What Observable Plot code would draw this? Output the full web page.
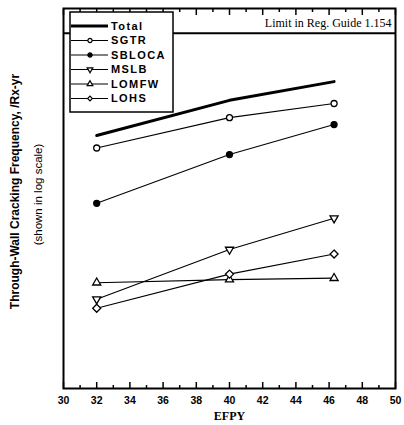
<!DOCTYPE html>
<html><head><meta charset="utf-8">
<script src="https://cdn.jsdelivr.net/npm/d3@7"></script>
<script src="https://cdn.jsdelivr.net/npm/@observablehq/plot@0.6"></script>
<style>body{margin:0;background:#fff}</style>
</head><body><div id="chart"></div>
<script>
const efpy = [32, 40, 46.3];
const seriesNames = ["Total", "SGTR", "SBLOCA", "MSLB", "LOMFW", "LOHS"];
const total  = [4.6e-5, 1.08e-4, 1.7e-4];
const sgtr   = [3.4e-5, 7.1e-5, 1.0e-4];
const sbloca = [8.9e-6, 2.9e-5, 6.0e-5];
const mslb   = [8.7e-7, 2.9e-6, 6.2e-6];
const lomfw  = [1.3e-6, 1.4e-6, 1.45e-6];
const lohs   = [7.0e-7, 1.6e-6, 2.6e-6];
const limitValue = 5.5e-4;
const limitLabel = "Limit in Reg. Guide 1.154";
const xTicks = [30, 32, 34, 36, 38, 40, 42, 44, 46, 48, 50];
const xMinor = [31, 33, 35, 37, 39, 41, 43, 45, 47, 49];
const yLabel = "Through-Wall Cracking Frequency, /Rx-yr";
const yLabel2 = "(shown in log scale)";
const xLabel = "EFPY";

const values = [total, sgtr, sbloca, mslb, lomfw, lohs];
const symbolOf = {SGTR: "circle", SBLOCA: "circle", MSLB: "triangle", LOMFW: "triangle", LOHS: "diamond2"};
const rotateOf = {MSLB: 180};
const filledOf = {SBLOCA: true};
const rows = [];
seriesNames.forEach((s, i) => efpy.forEach((x, j) => rows.push({series: s, x, y: values[i][j]})));
const totalRows = rows.filter(d => d.series === "Total");
const compRows = rows.filter(d => d.series !== "Total");

const sans = "'Liberation Sans', Arial, sans-serif";
const serif = "'Liberation Serif', 'Times New Roman', serif";

const dotMarks = seriesNames.filter(s => s !== "Total").map(s =>
  Plot.dot(compRows.filter(d => d.series === s), {
    x: "x", y: "y", symbol: () => symbolOf[s], r: s === "LOHS" ? 3.6 : 3,
    rotate: rotateOf[s] || 0,
    fill: filledOf[s] ? "black" : "white", stroke: "black", strokeWidth: 1.3
  })
);

const plot = Plot.plot({
  width: 404, height: 425,
  marginLeft: 63, marginRight: 9, marginTop: 8, marginBottom: 37,
  style: {fontFamily: sans, background: "white"},
  x: {domain: [30, 50]},
  y: {type: "log", domain: [1e-7, 1e-3], axis: null},
  marks: [
    Plot.ruleY([limitValue], {stroke: "black", strokeWidth: 2}),
    Plot.text([limitLabel], {frameAnchor: "top-right", dx: -4, dy: 10, textAnchor: "end", lineAnchor: "top", fontFamily: serif, fontSize: 12, letterSpacing: 0.6}),
    Plot.line(compRows, {x: "x", y: "y", z: "series", stroke: "black", strokeWidth: 1.1}),
    Plot.line(totalRows, {x: "x", y: "y", stroke: "black", strokeWidth: 3}),
    ...dotMarks,
    Plot.axisX({anchor: "bottom", ticks: xTicks, tickSize: 0, tickPadding: 8, fontSize: 10.5, fontWeight: "bold", label: null, letterSpacing: 1.5}),
    Plot.axisX({anchor: "bottom", ticks: xTicks, tickSize: -6, text: null, label: null, strokeWidth: 1.5}),
    Plot.axisX({anchor: "bottom", ticks: xMinor, tickSize: -3, text: null, label: null, strokeWidth: 1.5}),
    Plot.axisX({anchor: "top", ticks: xTicks, tickSize: -6, text: null, label: null, strokeWidth: 1.5}),
    Plot.axisX({anchor: "top", ticks: xMinor, tickSize: -3, text: null, label: null, strokeWidth: 1.5}),
    Plot.frame({stroke: "black", strokeWidth: 2}),
    Plot.text([xLabel], {frameAnchor: "bottom", dy: 28, lineAnchor: "middle", fontFamily: serif, fontWeight: "bold", fontSize: 12, letterSpacing: 3}),
    Plot.text([yLabel], {frameAnchor: "left", dx: -48, dy: -7, rotate: -90, textAnchor: "middle", lineAnchor: "middle", fontWeight: "bold", fontSize: 12, letterSpacing: 1.7}),
    Plot.text([yLabel2], {frameAnchor: "left", dx: -25, dy: -4, rotate: -90, textAnchor: "middle", lineAnchor: "middle", fontSize: 11.5, letterSpacing: 2.3})
  ]
});
document.getElementById("chart").append(plot);

// legend box inside the frame
const svg = d3.select(plot);
const lg = svg.append("g").attr("transform", "translate(70,12)");
lg.append("rect").attr("width", 103).attr("height", 100).attr("fill", "white").attr("stroke", "black").attr("stroke-width", 1.5);
seriesNames.forEach((s, i) => {
  const yy = 14 + i * 14.5;
  lg.append("line").attr("x1", 1).attr("x2", 38).attr("y1", yy).attr("y2", yy)
    .attr("stroke", "black").attr("stroke-width", s === "Total" ? 3 : 1.1);
  if (s !== "Total") {
    const sym = {circle: d3.symbolCircle, triangle: d3.symbolTriangle, diamond2: d3.symbolDiamond2}[symbolOf[s]];
    const size = 14;
    lg.append("path").attr("d", d3.symbol(sym, size)())
      .attr("transform", `translate(20,${yy}) rotate(${rotateOf[s] || 0})`)
      .attr("fill", filledOf[s] ? "black" : "white").attr("stroke", "black").attr("stroke-width", 1.2);
  }
  lg.append("text").attr("x", 41).attr("y", yy).attr("dy", "0.36em")
    .attr("text-anchor", "start")
    .attr("font-family", sans).attr("font-weight", "bold").attr("font-size", 11)
    .attr("letter-spacing", 1.4).text(s);
});
</script></body></html>
